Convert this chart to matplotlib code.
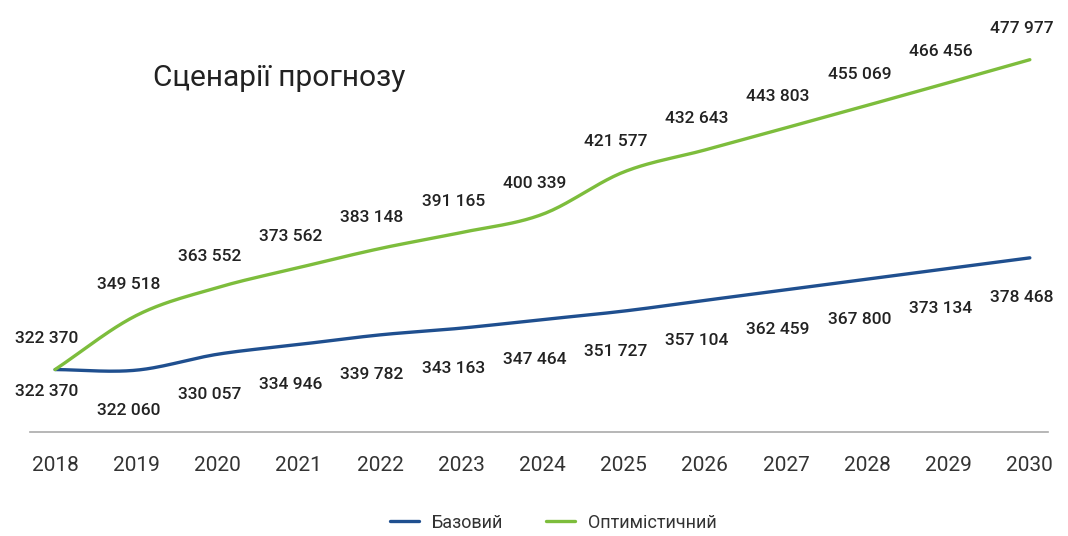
import matplotlib.pyplot as plt
import numpy as np

plt.rcParams['font.family'] = ['Roboto', 'DejaVu Sans']

years = [2018, 2019, 2020, 2021, 2022, 2023, 2024, 2025, 2026, 2027, 2028, 2029, 2030]
base = [322370, 322060, 330057, 334946, 339782, 343163, 347464,
        351727, 357104, 362459, 367800, 373134, 378468]
optimistic = [322370, 349518, 363552, 373562, 383148, 391165, 400339,
              421577, 432643, 443803, 455069, 466456, 477977]

BLUE = '#1f4f8f'
GREEN = '#7dbd3c'


def smooth(x, y, steps=24):
    # cubic Hermite curve through every point, tangents from neighbours
    x = np.asarray(x, float)
    y = np.asarray(y, float)
    m = np.gradient(y, x)
    xs, ys = [], []
    for i in range(len(x) - 1):
        h = x[i + 1] - x[i]
        t = np.linspace(0, 1, steps, endpoint=False)
        h00 = 2 * t**3 - 3 * t**2 + 1
        h10 = t**3 - 2 * t**2 + t
        h01 = -2 * t**3 + 3 * t**2
        h11 = t**3 - t**2
        xs.append(x[i] + t * h)
        ys.append(h00 * y[i] + h10 * h * m[i] + h01 * y[i + 1] + h11 * h * m[i + 1])
    xs.append([x[-1]])
    ys.append([y[-1]])
    return np.concatenate(xs), np.concatenate(ys)


def fmt(v):
    return f'{v:,}'.replace(',', ' ')


fig = plt.figure(figsize=(10.68, 5.36), dpi=100)
ax = fig.add_axes([0.028, 0.194, 0.953, 0.769])

bx, by = smooth(years, base)
gx, gy = smooth(years, optimistic)
ax.plot(bx, by, color=BLUE, lw=2.4, label='Базовий', solid_capstyle='round')
ax.plot(gx, gy, color=GREEN, lw=2.4, label='Оптимістичний', solid_capstyle='round')

# value labels: optimistic above the line, base below it
for i, (yr, v) in enumerate(zip(years, optimistic)):
    ax.annotate(fmt(v), (yr, v), xytext=(-8, 31), textcoords='offset pixels',
                ha='center', va='center', fontsize=12.5, fontweight='medium',
                color='#222222')
for i, (yr, v) in enumerate(zip(years, base)):
    dy = -22 if i == 0 else -40
    ax.annotate(fmt(v), (yr, v), xytext=(-8, dy), textcoords='offset pixels',
                ha='center', va='center', fontsize=12.5, fontweight='medium',
                color='#222222')

ax.set_xlim(2017.69, 2030.22)
ax.set_ylim(291000, 498000)
ax.set_xticks(years)
ax.set_xticklabels([str(y) for y in years], fontsize=15, color='#333333')
ax.tick_params(axis='x', length=0, pad=17)
ax.set_yticks([])
for side in ['left', 'right', 'top']:
    ax.spines[side].set_visible(False)
ax.spines['bottom'].set_color('#aaaaaa')
ax.spines['bottom'].set_linewidth(1.2)

fig.text(0.143, 0.855, 'Сценарії прогнозу', fontsize=21.5, color='#222222',
         ha='left', va='center')

fig.legend(loc='lower center', bbox_to_anchor=(0.518, -0.022), ncol=2,
           frameon=False, fontsize=13, handlelength=1.6, columnspacing=2.4,
           handletextpad=0.7, labelcolor='#333333')

fig.savefig('out.png', dpi=100, facecolor='white')
